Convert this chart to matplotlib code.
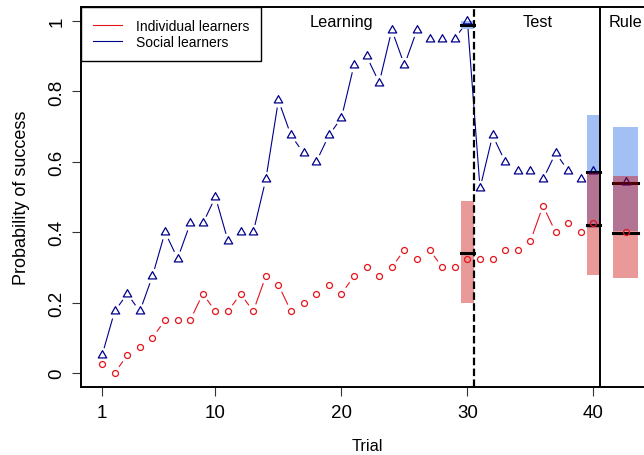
import numpy as np
import matplotlib
matplotlib.use('Agg')
import matplotlib.pyplot as plt
from matplotlib.lines import Line2D
from matplotlib.path import Path

plt.rcParams['font.family'] = ['Liberation Sans', 'DejaVu Sans']

# dados
trials = list(range(1, 41))
social = [0.05, 0.175, 0.225, 0.175, 0.275, 0.4, 0.325, 0.425, 0.425, 0.5,
          0.375, 0.4, 0.4, 0.55, 0.775, 0.675, 0.625, 0.6, 0.675, 0.725,
          0.875, 0.9, 0.825, 0.975, 0.875, 0.975, 0.95, 0.95, 0.95, 1.0,
          0.525, 0.675, 0.6, 0.575, 0.575, 0.55, 0.625, 0.575, 0.55, 0.575]
individual = [0.025, 0.0, 0.05, 0.075, 0.1, 0.15, 0.15, 0.15, 0.225, 0.175,
              0.175, 0.225, 0.175, 0.275, 0.25, 0.175, 0.2, 0.225, 0.25, 0.225,
              0.275, 0.3, 0.275, 0.3, 0.35, 0.325, 0.35, 0.3, 0.3, 0.325,
              0.325, 0.325, 0.35, 0.35, 0.375, 0.475, 0.4, 0.425, 0.4, 0.425]

# intervalos (trial 30, trial 40, regra)
summary_x = [30, 40, 42.55]
summary_w = [1, 1, 2]
social_lo = [0.977, 0.412, 0.404]
social_hi = [1.0, 0.732, 0.70]
social_mean = [0.99, 0.571, 0.539]
indiv_lo = [0.20, 0.278, 0.269]
indiv_hi = [0.49, 0.569, 0.559]
indiv_mean = [0.34, 0.42, 0.399]
rule_x = 42.55
rule_social = 0.544
rule_indiv = 0.40

phase_labels = ['Learning', 'Test', 'Rule']
phase_x = [20, 35.6, 42.55]

col_soc = '#00008B'
col_ind = '#E3141C'
# triangulo equilatero centrado no baricentro (como pch=2 do R)
tri = Path([(0, 1), (-0.866, -0.5), (0.866, -0.5), (0, 1)], closed=True)


def segmentos_com_gap(ax, x, y, gap_px):
    """Imita type='b' do R: linhas que param antes dos pontos."""
    pts = ax.transData.transform(np.column_stack([x, y]))
    segs = []
    for p0, p1 in zip(pts[:-1], pts[1:]):
        d = p1 - p0
        L = np.hypot(d[0], d[1])
        if L > 2 * gap_px:
            u = d / L
            a = ax.transData.inverted().transform(p0 + u * gap_px)
            b = ax.transData.inverted().transform(p1 - u * gap_px)
            segs.append((a, b))
    return segs


fig = plt.figure(figsize=(6.44, 4.56), dpi=100)
ax = fig.add_axes([81 / 644, 68 / 456, 571 / 644, 380 / 456])
ax.set_xlim(-0.67, 44.65)
ax.set_ylim(-0.04, 1.04)

for serie, cor in [(social, col_soc), (individual, col_ind)]:
    for a, b in segmentos_com_gap(ax, trials, serie, 8):
        ax.plot([a[0], b[0]], [a[1], b[1]], color=cor, lw=0.8, zorder=2)

# retangulos e medias
ax.bar(summary_x, np.subtract(social_hi, social_lo), width=summary_w,
       bottom=social_lo, color='#A3C0F4', zorder=2.5)
ax.hlines(social_mean, np.subtract(summary_x, np.divide(summary_w, 2)),
          np.add(summary_x, np.divide(summary_w, 2)), color='black', lw=2.2,
          capstyle='projecting', zorder=2.8)

ax.plot(trials, social, linestyle='none', marker=tri, ms=7, mfc='none',
        mec=col_soc, mew=0.9, zorder=3)
ax.plot([rule_x], [rule_social], linestyle='none', marker=tri, ms=7, mfc='none',
        mec=col_soc, mew=0.9, zorder=3)

ax.bar(summary_x, np.subtract(indiv_hi, indiv_lo), width=summary_w,
       bottom=indiv_lo, color=(0.8, 0, 0), alpha=0.4, lw=0, zorder=4)
ax.hlines(indiv_mean, np.subtract(summary_x, np.divide(summary_w, 2)),
          np.add(summary_x, np.divide(summary_w, 2)), color='black', lw=2.2,
          capstyle='projecting', zorder=5)

ax.plot(trials, individual, linestyle='none', marker='o', ms=4.3, mfc='none',
        mec=col_ind, mew=0.9, zorder=6)
ax.plot([rule_x], [rule_indiv], linestyle='none', marker='o', ms=4.3, mfc='none',
        mec=col_ind, mew=0.9, zorder=6)

ax.axvline(30.5, color='black', lw=1.6, ls=(0, (3.4, 1.5)), zorder=7)
ax.axvline(40.5, color='black', lw=1.4, zorder=7)

for txt, xx in zip(phase_labels, phase_x):
    ax.text(xx, 1.0, txt, ha='center', va='center', fontsize=11.7, zorder=8)

ax.set_xticks([1, 10, 20, 30, 40])
ax.set_xticklabels(['1', '10', '20', '30', '40'], fontsize=13.5)
ax.set_yticks([0, 0.2, 0.4, 0.6, 0.8, 1])
ax.set_yticklabels(['0', '0.2', '0.4', '0.6', '0.8', '1'], fontsize=13.5,
                   rotation=90, va='center')
ax.tick_params(length=6.3, width=0.8, color='#333333')
ax.tick_params(axis='x', pad=6)
ax.tick_params(axis='y', pad=5)
for s in ax.spines.values():
    s.set_linewidth(1.4)

fig.text(367 / 644, 1 - 451 / 456, 'Trial', ha='center', va='baseline', fontsize=11.7)
fig.text(22 / 644, 1 - 198 / 456, 'Probability of success', rotation=90,
         ha='center', va='center', fontsize=13)

handles = [Line2D([], [], color=col_ind, lw=0.8),
           Line2D([], [], color=col_soc, lw=0.8)]
leg = ax.legend(handles, ['Individual learners', 'Social learners'],
                loc='upper left', bbox_to_anchor=(0, 1), borderaxespad=0,
                fontsize=10, fancybox=False, framealpha=1, edgecolor='black',
                handlelength=2.1, handletextpad=1.0, borderpad=0.85,
                labelspacing=0.15)
leg.get_frame().set_linewidth(1.0)
leg.set_zorder(10)

fig.savefig('out.png', dpi=100)
